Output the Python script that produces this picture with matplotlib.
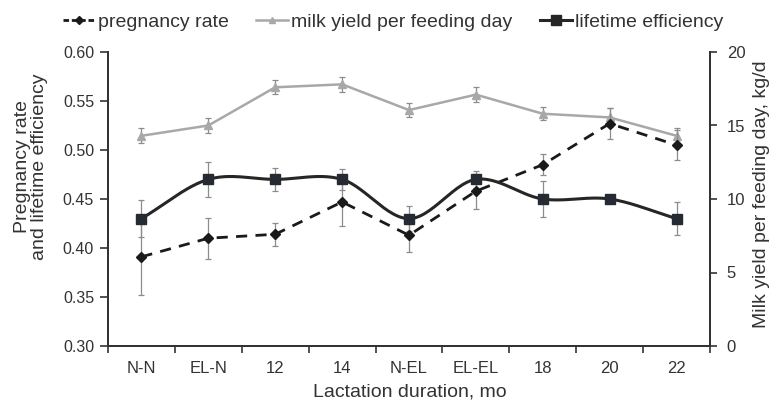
import numpy as np
import matplotlib
matplotlib.use("Agg")
import matplotlib.pyplot as plt
from matplotlib.lines import Line2D

plt.rcParams['font.family'] = ['Liberation Sans', 'DejaVu Sans']

categories = ["N-N", "EL-N", "12", "14", "N-EL", "EL-EL", "18", "20", "22"]
pregnancy = [0.391, 0.410, 0.414, 0.447, 0.413, 0.458, 0.485, 0.527, 0.505]
pregnancy_err = [0.039, 0.021, 0.012, 0.025, 0.017, 0.018, 0.011, 0.016, 0.015]
lifetime = [0.430, 0.470, 0.470, 0.470, 0.430, 0.470, 0.450, 0.450, 0.430]
lifetime_err = [0.019, 0.018, 0.012, 0.011, 0.013, 0.009, 0.018, 0.003, 0.017]
milk = [14.3, 15.0, 17.6, 17.8, 16.05, 17.1, 15.8, 15.55, 14.3]
milk_err = [0.5, 0.52, 0.48, 0.5, 0.5, 0.5, 0.45, 0.63, 0.5]

def catmull_rom(x, y, n=30):
    x = np.asarray(x, float); y = np.asarray(y, float)
    px = np.concatenate([[2*x[0]-x[1]], x, [2*x[-1]-x[-2]]])
    py = np.concatenate([[2*y[0]-y[1]], y, [2*y[-1]-y[-2]]])
    xs, ys = [], []
    t = np.linspace(0, 1, n)
    for i in range(1, len(px)-2):
        p0, p1, p2, p3 = (np.array([px[j], py[j]]) for j in range(i-1, i+3))
        for tt in (t[:-1] if i < len(px)-3 else t):
            pt = 0.5*((2*p1) + (-p0+p2)*tt + (2*p0-5*p1+4*p2-p3)*tt**2 + (-p0+3*p1-3*p2+p3)*tt**3)
            xs.append(pt[0]); ys.append(pt[1])
    return np.array(xs), np.array(ys)

W, H = 771, 401
fig = plt.figure(figsize=(W/100, H/100), dpi=100)
ax = fig.add_axes([108/W, 55/H, 602/W, 294/H])
ax2 = ax.twinx()

x = np.arange(len(categories))
txt = '#333333'
errc = '#8c8c8c'

# milk yield on right axis
ax2.errorbar(x, milk, yerr=milk_err, fmt='none', ecolor=errc, elinewidth=0.9, capsize=2.5, capthick=0.9, zorder=2)
ax2.plot(x, milk, color='#a8a8a8', lw=1.8, marker='^', ms=5.5, mec='#a8a8a8', mfc='#a8a8a8', zorder=3)

# pregnancy rate
ax.errorbar(x, pregnancy, yerr=pregnancy_err, fmt='none', ecolor=errc, elinewidth=0.9, capsize=2.5, capthick=0.9, zorder=2)
ax.plot(x, pregnancy, color='#1a1a1a', lw=2.0, ls=(0, (4, 3)), zorder=3)
ax.plot(x, pregnancy, ls='none', marker='D', ms=5.5, color='#1a1a1a', zorder=4)

# lifetime efficiency (smoothed)
ax.errorbar(x, lifetime, yerr=lifetime_err, fmt='none', ecolor=errc, elinewidth=0.9, capsize=2.5, capthick=0.9, zorder=2)
sx, sy = catmull_rom(x, lifetime)
ax.plot(sx, sy, color='#262626', lw=2.2, zorder=3)
ax.plot(x, lifetime, ls='none', marker='s', ms=7, color='#262a33', zorder=4)

ax.set_zorder(ax2.get_zorder() + 1)
ax.patch.set_visible(False)

ax.set_xlim(-0.5, len(categories) - 0.5)
ax.set_ylim(0.30, 0.60)
yt = np.arange(0.30, 0.601, 0.05)
ax.set_yticks(yt)
ax.set_yticklabels([f"{v:.2f}" for v in yt])
ax2.set_ylim(0, 20)
ax2.set_yticks([0, 5, 10, 15, 20])

ax.set_xticks(x)
ax.set_xticklabels(categories)
ax.set_xticks(np.arange(-0.5, len(categories), 1.0), minor=True)
ax.tick_params(axis='x', which='major', length=0, pad=11, labelsize=12, colors=txt)
ax.tick_params(axis='x', which='minor', length=5, width=1.2, color='#333333', direction='out')
ax.tick_params(axis='y', length=6, width=1.2, colors=txt, labelsize=11.5, direction='out', pad=4)
ax2.tick_params(axis='y', length=5, width=1.2, colors=txt, labelsize=12, direction='out', pad=7)

for a in (ax, ax2):
    a.spines['top'].set_visible(False)
    for s in ('left', 'right', 'bottom'):
        a.spines[s].set_color('#333333')
        a.spines[s].set_linewidth(1.4)

fig.text(410/W, 1 - 392/H, "Lactation duration, mo", fontsize=14, color=txt,
         ha='center', va='center')
fig.text(31/W, 1 - 167/H, "Pregnancy rate\nand lifetime efficiency", fontsize=14, color=txt,
         ha='center', va='center', rotation=90, linespacing=1.02, multialignment='center')
fig.text(762/W, 1 - 194/H, "Milk yield per feeding day, kg/d", fontsize=14, color=txt,
         ha='center', va='center', rotation=90)

handles = [
    Line2D([], [], color='#1a1a1a', lw=2.0, ls=(0, (2, 1)), marker='D', ms=4.5),
    Line2D([], [], color='#a8a8a8', lw=1.8, marker='^', ms=5),
    Line2D([], [], color='#262626', lw=2.2, marker='s', ms=6.5),
]
fig.legend(handles, ["pregnancy rate", "milk yield per feeding day", "lifetime efficiency"],
           loc='center', bbox_to_anchor=(393/W, 1 - 22/H), ncol=3, frameon=False,
           fontsize=14, handlelength=1.65, handletextpad=0.15, columnspacing=1.4,
           labelcolor=txt, borderpad=0, borderaxespad=0)

fig.savefig("out.png", dpi=100)
